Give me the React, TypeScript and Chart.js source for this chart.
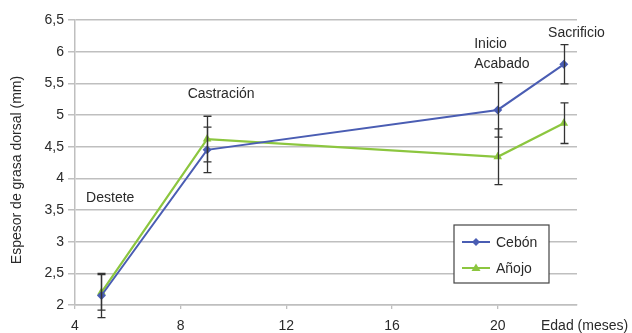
import { useEffect, useRef } from "react";
import { Chart, registerables } from "chart.js";

Chart.register(...registerables);

// ---- data ----
const months = [5, 9, 20, 22.5];
const cebon = [2.15, 4.45, 5.08, 5.8];
const cebonErr = [0.35, 0.36, 0.43, 0.31];
const anojo = [2.2, 4.62, 4.34, 4.87];
const anojoErr = [0.28, 0.36, 0.44, 0.32];
const xTickValues = [4, 8, 12, 16, 20];
const seriesNames = ["Cebón", "Añojo"];

// phase annotations (data coordinates)
const eventTexts = [["Destete"], ["Castración"], ["Inicio", "Acabado"], ["Sacrificio"]];
const eventX = [4.42, 9.53, 19.11, 22.98];
const eventY = [3.68, 5.33, 6.12, 6.29];
const eventAlign = ["left", "center", "left", "center"];

const FONT = "Liberation Sans, Arial, sans-serif";
const BLUE = "#4a5db3";
const GREEN = "#8cc63f";
const TEXT = "#2a2a2a";
const GRID = "#bfbfbf";

const seriesValues = [cebon, anojo];
const seriesErrs = [cebonErr, anojoErr];

const extrasPlugin = {
  id: "extras",
  afterDatasetsDraw(chart: any) {
    const { ctx, scales } = chart;
    const xs = scales.x;
    const ys = scales.y;
    ctx.save();
    ctx.strokeStyle = "#333333";
    ctx.lineWidth = 1.3;
    seriesValues.forEach((vals, di) => {
      vals.forEach((v, i) => {
        const px = Math.round(xs.getPixelForValue(months[i])) + 0.5;
        const top = ys.getPixelForValue(v + seriesErrs[di][i]);
        const bot = ys.getPixelForValue(v - seriesErrs[di][i]);
        ctx.beginPath();
        ctx.moveTo(px, top);
        ctx.lineTo(px, bot);
        ctx.moveTo(px - 4, top);
        ctx.lineTo(px + 4, top);
        ctx.moveTo(px - 4, bot);
        ctx.lineTo(px + 4, bot);
        ctx.stroke();
      });
    });
    ctx.restore();
  },
  afterDraw(chart: any) {
    const { ctx, scales } = chart;
    const xs = scales.x;
    const ys = scales.y;
    ctx.save();
    ctx.fillStyle = TEXT;
    ctx.font = `14px ${FONT}`;
    ctx.textBaseline = "middle";
    // annotations
    eventTexts.forEach((lines, i) => {
      const px = xs.getPixelForValue(eventX[i]);
      const py = ys.getPixelForValue(eventY[i]);
      ctx.textAlign = eventAlign[i] as CanvasTextAlign;
      lines.forEach((t, li) => ctx.fillText(t, px, py + li * 20));
    });
    // x axis title at right end
    ctx.textAlign = "left";
    ctx.fillText("Edad (meses)", 541, 326);
    // y axis title
    ctx.save();
    ctx.translate(17, 170);
    ctx.rotate(-Math.PI / 2);
    ctx.textAlign = "center";
    ctx.fillText("Espesor de grasa dorsal (mm)", 0, 0);
    ctx.restore();

    // legend box
    const bx = 454, by = 225, bw = 95, bh = 58;
    ctx.fillStyle = "#ffffff";
    ctx.fillRect(bx, by, bw, bh);
    ctx.strokeStyle = "#444444";
    ctx.lineWidth = 1.2;
    ctx.strokeRect(bx, by, bw, bh);
    chart.data.datasets.forEach((ds: any, i: number) => {
      const ry = by + 17 + i * 26;
      ctx.strokeStyle = ds.borderColor;
      ctx.lineWidth = 2;
      ctx.beginPath();
      ctx.moveTo(bx + 8, ry);
      ctx.lineTo(bx + 36, ry);
      ctx.stroke();
      ctx.fillStyle = ds.borderColor;
      ctx.beginPath();
      if (ds.pointStyle === "rectRot") {
        ctx.moveTo(bx + 22, ry - 4);
        ctx.lineTo(bx + 26, ry);
        ctx.lineTo(bx + 22, ry + 4);
        ctx.lineTo(bx + 18, ry);
      } else {
        ctx.moveTo(bx + 22, ry - 4.5);
        ctx.lineTo(bx + 26.5, ry + 3);
        ctx.lineTo(bx + 17.5, ry + 3);
      }
      ctx.closePath();
      ctx.fill();
      ctx.fillStyle = TEXT;
      ctx.textAlign = "left";
      ctx.font = `14px ${FONT}`;
      ctx.fillText(ds.label, bx + 42, ry + 1);
    });
    ctx.restore();
  },
};

export default function App() {
  const ref = useRef<HTMLCanvasElement>(null);
  useEffect(() => {
    if (!ref.current) return;
    const chart = new Chart(ref.current, {
      type: "line",
      data: {
        datasets: [
          {
            label: seriesNames[0],
            data: cebon.map((v, i) => ({ x: months[i], y: v })) as any,
            borderColor: BLUE,
            backgroundColor: BLUE,
            borderWidth: 2,
            pointStyle: "rectRot",
            pointRadius: 4.5,
            pointBorderWidth: 0,
          },
          {
            label: seriesNames[1],
            data: anojo.map((v, i) => ({ x: months[i], y: v })) as any,
            borderColor: GREEN,
            backgroundColor: GREEN,
            borderWidth: 2.2,
            pointStyle: "triangle",
            pointRadius: 5,
            pointBorderWidth: 0,
          },
        ],
      },
      options: {
        animation: false,
        responsive: false,
        devicePixelRatio: 1,
        layout: { padding: { top: 20, right: 55, left: 0, bottom: 0 } },
        plugins: { legend: { display: false }, tooltip: { enabled: false } },
        scales: {
          x: {
            type: "linear",
            min: 4,
            max: 23,
            afterBuildTicks: (s: any) => {
              s.ticks = xTickValues.map((v) => ({ value: v }));
            },
            afterFit: (s: any) => {
              s.height = 28;
            },
            grid: { display: true, drawOnChartArea: false, tickLength: 4, color: GRID, lineWidth: 1.3 },
            border: { color: GRID, width: 1.5 },
            ticks: { color: TEXT, font: { family: FONT, size: 14 }, padding: 9, maxRotation: 0 },
          },
          y: {
            min: 2,
            max: 6.5,
            afterFit: (s: any) => {
              s.width = 75;
            },
            grid: { color: GRID, lineWidth: 1.5, tickLength: 7 },
            border: { color: GRID, width: 1.5 },
            ticks: {
              stepSize: 0.5,
              color: TEXT,
              font: { family: FONT, size: 14 },
              padding: 4,
              callback: (v: any) => String(v).replace(".", ","),
            },
          },
        },
      },
      plugins: [extrasPlugin],
    });
    return () => chart.destroy();
  }, []);
  return (
    <div style={{ position: "absolute", left: 0, top: 0, width: 632, height: 333, background: "#fff" }}>
      <canvas ref={ref} width={632} height={333} style={{ display: "block" }} />
    </div>
  );
}
